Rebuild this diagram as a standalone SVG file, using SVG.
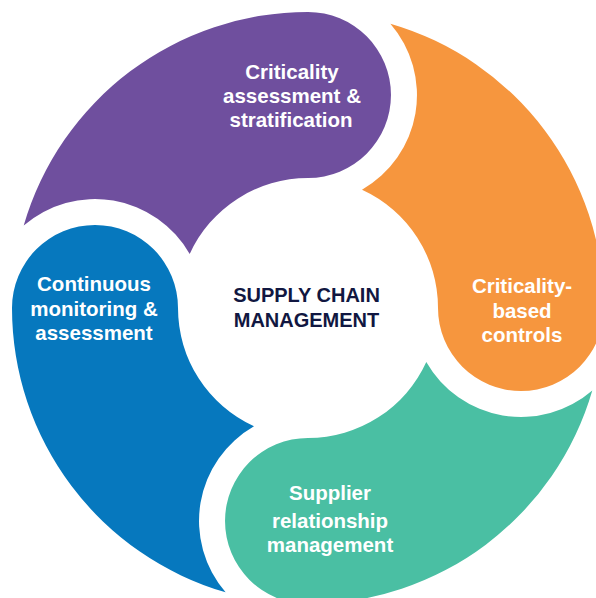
<svg xmlns="http://www.w3.org/2000/svg" xmlns:xlink="http://www.w3.org/1999/xlink" width="596" height="598" viewBox="0 0 596 598">
  <style>
    .lbl { font-family: "Liberation Sans", Arial, sans-serif; font-weight: bold; font-size: 20.5px; fill: #ffffff; text-anchor: middle; }
    .hub { font-family: "Liberation Sans", Arial, sans-serif; font-weight: bold; font-size: 20px; fill: #111741; text-anchor: middle; }
  </style>
  <defs>
    <path id="seg" d="M 23.7 225.6 A 296 296 0 0 1 308 12 A 83 83 0 0 1 308 178 A 130 130 0 0 0 189.7 254 A 109 109 0 0 0 23.7 225.6 Z"/>
  </defs>
  <rect width="596" height="598" fill="#ffffff"/>
  <g id="connectors"/>
  <g id="node-assessment">
    <use xlink:href="#seg" fill="#6F4F9E"/>
    <text class="lbl" x="292" y="79">Criticality</text>
    <text class="lbl" x="292" y="103">assessment &amp;</text>
    <text class="lbl" x="291" y="127">stratification</text>
  </g>
  <g id="node-controls">
    <use xlink:href="#seg" fill="#F6963E" transform="rotate(90 308 308)"/>
    <text class="lbl" x="522" y="293">Criticality-</text>
    <text class="lbl" x="522" y="318">based</text>
    <text class="lbl" x="522" y="342">controls</text>
  </g>
  <g id="node-supplier">
    <use xlink:href="#seg" fill="#4ABFA3" transform="rotate(180 308 308)"/>
    <text class="lbl" x="330" y="500">Supplier</text>
    <text class="lbl" x="330" y="528">relationship</text>
    <text class="lbl" x="330" y="552">management</text>
  </g>
  <g id="node-monitoring">
    <use xlink:href="#seg" fill="#0678BE" transform="rotate(270 308 308)"/>
    <text class="lbl" x="94" y="291">Continuous</text>
    <text class="lbl" x="94" y="316">monitoring &amp;</text>
    <text class="lbl" x="94" y="340">assessment</text>
  </g>
  <g id="node-center">
    <text class="hub" x="306.5" y="302">SUPPLY CHAIN</text>
    <text class="hub" x="306.5" y="327">MANAGEMENT</text>
  </g>
</svg>
